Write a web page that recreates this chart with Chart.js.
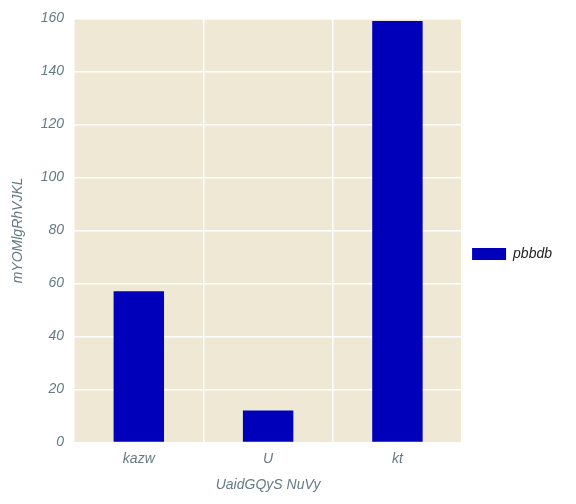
<!DOCTYPE html>
<html>
<head>
<script src="https://cdn.jsdelivr.net/npm/chart.js@4"></script>
<style>
  body { margin: 0; background: #fff; }
  #wrap { width: 576px; height: 504px; }
</style>
</head>
<body>
<div id="wrap"><canvas id="c"></canvas></div>
<script>
const categories = ['kazw', 'U', 'kt'];
const seriesValues = [57, 12, 159];
const seriesName = 'pbbdb';
const yTicks = [0, 20, 40, 60, 80, 100, 120, 140, 160];

const areaBg = {
    id: 'areaBg',
    beforeDraw(chart) {
        const a = chart.chartArea;
        const ctx = chart.ctx;
        ctx.save();
        ctx.fillStyle = '#eee8d5';
        ctx.fillRect(a.left, a.top, a.right - a.left, a.bottom - a.top);
        ctx.restore();
    }
};

const font = { family: 'Liberation Sans', size: 14, style: 'italic' };
const txt = '#657b83';

new Chart(document.getElementById('c'), {
    type: 'bar',
    data: {
        labels: categories,
        datasets: [{
            label: seriesName,
            data: seriesValues,
            backgroundColor: '#0000bb',
            barPercentage: 0.39,
            categoryPercentage: 1
        }]
    },
    options: {
        responsive: true,
        maintainAspectRatio: false,
        animation: false,
        layout: { padding: { top: 12, right: 14, bottom: 8, left: 6 } },
        plugins: {
            legend: {
                position: 'right',
                labels: { font: font, color: '#222', boxWidth: 34, boxHeight: 12 }
            },
            tooltip: { enabled: false }
        },
        scales: {
            x: {
                grid: { color: '#ffffff', lineWidth: 1.5, drawTicks: false },
                border: { display: false },
                ticks: { font: font, color: txt, padding: 8 },
                title: { display: true, text: 'UaidGQyS NuVy', font: font, color: txt, padding: 2 }
            },
            y: {
                min: 0, max: 160,
                afterBuildTicks: axis => { axis.ticks = yTicks.map(v => ({ value: v })); },
                grid: { color: '#ffffff', lineWidth: 1.5, drawTicks: false },
                border: { display: false },
                ticks: { font: font, color: txt, padding: 10 },
                title: { display: true, text: 'mYOMlgRhVJKL', font: font, color: txt, padding: 4 }
            }
        }
    },
    plugins: [areaBg]
});
</script>
</body>
</html>
